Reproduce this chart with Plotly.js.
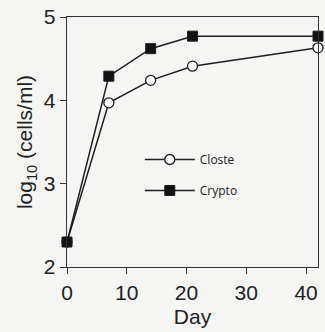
<!DOCTYPE html>
<html><head><meta charset="utf-8">
<script src="https://cdn.plot.ly/plotly-3.0.1.min.js"></script>
<style>html,body{margin:0;padding:0;background:#f5f5f3;}</style>
</head><body><div id="chart" style="width:325px;height:332px;"></div>
<script>
const days = [0, 7, 14, 21, 42];
const closte = [2.30, 3.97, 4.24, 4.41, 4.63];
const crypto = [2.30, 4.29, 4.62, 4.77, 4.77];
const xTicks = [0, 10, 20, 30, 40];
const yTicks = [2, 3, 4, 5];

const lineCol = '#1e1e1e';
const traces = [
  {x: days, y: closte, name: 'Closte', mode: 'lines+markers', cliponaxis: false, legendgroup: 'a',
   line: {color: lineCol, width: 1.5},
   marker: {symbol: 'circle', size: 10, color: '#ffffff', line: {color: lineCol, width: 1.3}}},
  {x: days, y: crypto, name: 'Crypto', mode: 'lines+markers', cliponaxis: false, legendgroup: 'b',
   line: {color: lineCol, width: 1.5},
   marker: {symbol: 'square', size: 10, color: '#111111', line: {color: lineCol, width: 1}}}
];
const axFont = {family: 'Liberation Sans, Arial, sans-serif', size: 21, color: '#222'};
const layout = {
  width: 325, height: 332,
  margin: {l: 67, r: 7, t: 17, b: 65},
  paper_bgcolor: '#f5f5f3', plot_bgcolor: '#f5f5f3',
  showlegend: true,
  legend: {x: 0.29, y: 0.488, xanchor: 'left', yanchor: 'top', bgcolor: 'rgba(0,0,0,0)',
           font: {family: 'Open Sans, sans-serif', size: 12, color: '#222'},
           itemwidth: 50, tracegroupgap: 12, traceorder: 'grouped'},
  xaxis: {range: [0, 42], tickvals: xTicks, ticks: 'outside', ticklen: 6, tickcolor: '#333',
          showline: true, linecolor: '#333', linewidth: 1.3, mirror: true, showgrid: false, zeroline: false,
          tickfont: axFont, title: {text: 'Day', font: axFont, standoff: 6}},
  yaxis: {range: [2, 5], tickvals: yTicks, ticks: 'outside', ticklen: 6, tickcolor: '#333',
          showline: true, linecolor: '#333', linewidth: 1.3, mirror: true, showgrid: false, zeroline: false,
          tickfont: axFont, title: {text: 'log<sub>10</sub> (cells/ml)', font: axFont, standoff: 5}}
};
Plotly.newPlot('chart', traces, layout, {displayModeBar: false, staticPlot: true});
</script></body></html>
